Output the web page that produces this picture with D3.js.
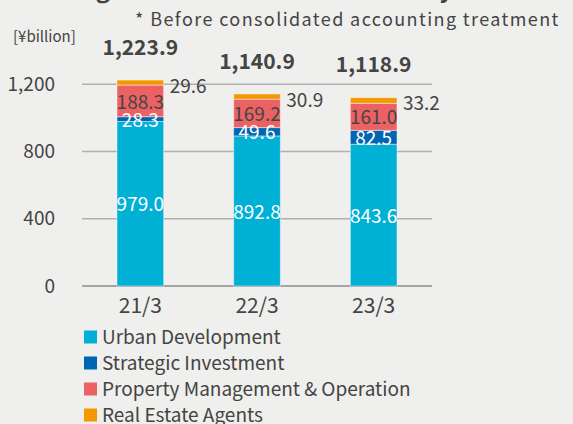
<!DOCTYPE html>
<html>
<head>
<meta charset="utf-8">
<script src="https://cdn.jsdelivr.net/npm/d3@7"></script>
<style>
  html, body { margin: 0; padding: 0; background: #efefed; }
  svg { display: block; font-family: "Noto Sans CJK JP", "Noto Sans", sans-serif; }
</style>
</head>
<body>
<svg id="chart" width="573" height="424"></svg>
<script>
var years = ["21/3", "22/3", "23/3"];
var segments = ["Urban Development", "Strategic Investment", "Property Management & Operation", "Real Estate Agents"];
var urbanDevelopment = [979.0, 892.8, 843.6];
var strategicInvestment = [28.3, 49.6, 82.5];
var propertyManagement = [188.3, 169.2, 161.0];
var realEstateAgents = [29.6, 30.9, 33.2];
var totals = [1223.9, 1140.9, 1118.9];
var yTicks = [0, 400, 800, 1200];

var colors = ["#00b0d5", "#0066b3", "#ec6264", "#f39800"];
var textColor = "#444";

var svg = d3.select("#chart");

var rows = years.map(function(y, i) {
  return {
    year: y,
    "Urban Development": urbanDevelopment[i],
    "Strategic Investment": strategicInvestment[i],
    "Property Management & Operation": propertyManagement[i],
    "Real Estate Agents": realEstateAgents[i],
    total: totals[i]
  };
});

var stacked = d3.stack().keys(segments)(rows);

var x = d3.scaleBand().domain(years).range([82, 432]).padding(0);
var barW = x.bandwidth() * 0.4;
var barX = function(d) { return x(d) + (x.bandwidth() - barW) / 2; };
var y = d3.scaleLinear().domain([0, 1200]).range([286, 84.3]);

// title sits above the visible area, only its descenders show
svg.append("text")
  .attr("x", 20)
  .attr("y", -2)
  .attr("font-size", "24px")
  .attr("font-weight", "bold")
  .attr("fill", textColor)
  .text("Leasing assets balance of each entity");

svg.append("text")
  .attr("x", 135)
  .attr("y", 26)
  .attr("font-size", "18px")
  .attr("letter-spacing", "1.4px")
  .attr("fill", textColor)
  .text("* Before consolidated accounting treatment");

svg.append("text")
  .attr("x", 13)
  .attr("y", 42)
  .attr("font-size", "15px")
  .attr("fill", textColor)
  .text("[¥billion]");

// gridlines
svg.append("g")
  .selectAll("line")
  .data(yTicks)
  .join("line")
  .attr("x1", 82)
  .attr("x2", 432)
  .attr("y1", function(d) { return y(d); })
  .attr("y2", function(d) { return y(d); })
  .attr("stroke", function(d) { return d === 0 ? "#8c8c8c" : "#b0b0b0"; })
  .attr("stroke-width", 1.5);

// y axis labels
var yAxis = svg.append("g")
  .attr("transform", "translate(55,0)")
  .call(d3.axisLeft(y).tickValues(yTicks).tickSize(0).tickPadding(0).tickFormat(d3.format(",")));
yAxis.select(".domain").remove();
yAxis.selectAll("text")
  .attr("font-size", "19px")
  .attr("font-family", "Noto Sans CJK JP")
  .attr("fill", textColor);

// x axis labels
var xAxis = svg.append("g")
  .attr("transform", "translate(0,298)")
  .call(d3.axisBottom(x).tickSize(0).tickPadding(0));
xAxis.select(".domain").remove();
xAxis.selectAll("text")
  .attr("font-size", "21px")
  .attr("font-family", "Noto Sans CJK JP")
  .attr("fill", textColor);

// bars
var layer = svg.append("g")
  .selectAll("g")
  .data(stacked)
  .join("g")
  .attr("fill", function(d, i) { return colors[i]; });

layer.selectAll("rect")
  .data(function(d) { return d; })
  .join("rect")
  .attr("x", function(d) { return barX(d.data.year); })
  .attr("width", barW)
  .attr("y", function(d) { return y(d[1]); })
  .attr("height", function(d) { return y(d[0]) - y(d[1]); })
  .attr("stroke", "rgba(255,255,255,0.45)")
  .attr("stroke-width", 1);

// value labels: inside for the lower three, beside the bar for the top one
stacked.forEach(function(s, si) {
  if (si === 3) {
    svg.append("g")
      .selectAll("text")
      .data(s)
      .join("text")
      .attr("x", function(d) { return barX(d.data.year) + barW + 6; })
      .attr("y", function(d) { return y(d[1]) + 6; })
      .attr("dy", "0.35em")
      .attr("font-size", "19px")
      .attr("fill", textColor)
      .text(function(d) { return d3.format(".1f")(d[1] - d[0]); });
    return;
  }
  svg.append("g")
    .selectAll("text")
    .data(s)
    .join("text")
    .attr("x", function(d) { return barX(d.data.year) + barW / 2; })
    .attr("y", function(d) { return (y(d[0]) + y(d[1])) / 2 + 1; })
    .attr("dy", "0.35em")
    .attr("text-anchor", "middle")
    .attr("font-size", "19px")
    .attr("fill", si === 2 ? textColor : "#fff")
    .text(function(d) { return d3.format(".1f")(d[1] - d[0]); });
});

// totals
svg.append("g")
  .selectAll("text")
  .data(rows)
  .join("text")
  .attr("x", function(d) { return barX(d.year) + barW / 2; })
  .attr("y", function(d) { return y(d.total) - 33; })
  .attr("dy", "0.35em")
  .attr("text-anchor", "middle")
  .attr("font-size", "21px")
  .attr("font-weight", "bold")
  .attr("fill", textColor)
  .text(function(d) { return d3.format(",.1f")(d.total); });

// legend
var legend = svg.append("g")
  .selectAll("g")
  .data(segments)
  .join("g")
  .attr("transform", function(d, i) { return "translate(84," + (337 + i * 26) + ")"; });

legend.append("rect")
  .attr("x", 0)
  .attr("y", -6.5)
  .attr("width", 13)
  .attr("height", 13)
  .attr("fill", function(d, i) { return colors[i]; });

legend.append("text")
  .attr("x", 18)
  .attr("y", 0)
  .attr("dy", "0.35em")
  .attr("font-size", "19px")
  .attr("fill", textColor)
  .text(function(d) { return d; });
</script>
</body>
</html>
